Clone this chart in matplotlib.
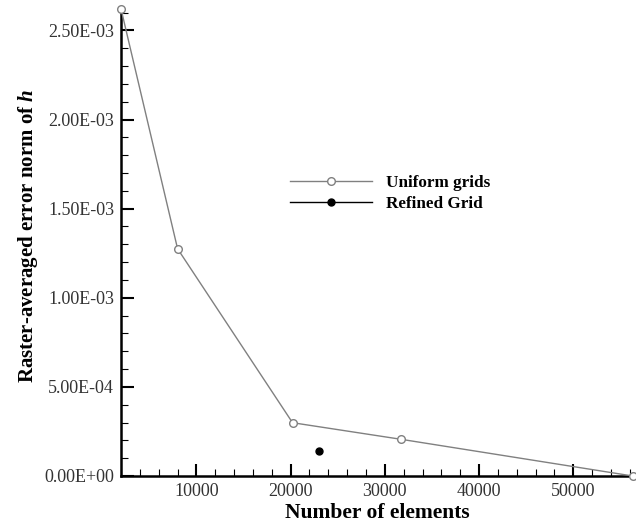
import numpy as np
import matplotlib
matplotlib.use("Agg")
import matplotlib.pyplot as plt
from matplotlib.ticker import MultipleLocator, FormatStrFormatter

plt.rcParams["font.family"] = ["Liberation Serif", "DejaVu Serif"]
plt.rcParams["mathtext.fontset"] = "custom"
plt.rcParams["mathtext.it"] = "Liberation Serif:italic:bold"
plt.rcParams["mathtext.rm"] = "Liberation Serif:bold"

# 数据
uniform_elements = [2000, 8000, 20200, 31700, 56300]
uniform_error = [2.62e-3, 1.275e-3, 2.99e-4, 2.06e-4, 0.0]
refined_elements = [23000]
refined_error = [1.42e-4]

fig = plt.figure(figsize=(6.36, 5.29), dpi=100)
ax = fig.add_axes([0.1903, 0.1002, 0.8045, 0.8828])

ax.plot(uniform_elements, uniform_error, color="#808080", linewidth=1.0,
        marker="o", markersize=5.5, markerfacecolor="white",
        markeredgecolor="#808080", markeredgewidth=1.0,
        label="Uniform grids", clip_on=False, zorder=3)
ax.plot(refined_elements, refined_error, color="black", linewidth=1.0,
        linestyle="none", marker="o", markersize=5,
        label="Refined Grid", clip_on=False, zorder=3)

ax.set_xlim(2000, 56300)
ax.set_ylim(0, 2.62e-3)

for side in ["top", "right"]:
    ax.spines[side].set_visible(False)
for side in ["left", "bottom"]:
    ax.spines[side].set_linewidth(1.8)

ax.xaxis.set_major_locator(MultipleLocator(10000))
ax.xaxis.set_minor_locator(MultipleLocator(2000))
ax.yaxis.set_major_locator(MultipleLocator(5e-4))
ax.yaxis.set_minor_locator(MultipleLocator(1e-4))
ax.yaxis.set_major_formatter(FormatStrFormatter("%.2E"))

ax.tick_params(which="major", direction="in", length=9, width=1.5,
               labelsize=13, labelcolor="#333333", pad=5)
ax.tick_params(which="minor", direction="in", length=5, width=0.8)

ax.set_xlabel("Number of elements", fontsize=15.5, fontweight="bold", labelpad=2)
ax.set_ylabel("Raster-averaged error norm of $h$", fontsize=15,
              fontweight="bold", labelpad=4)
ax.yaxis.set_label_coords(-0.158, 0.515)

leg = ax.legend(loc="upper left", bbox_to_anchor=(0.456, 0.669),
                bbox_transform=fig.transFigure, frameon=False,
                prop={"size": 12.3, "weight": "bold"}, handlelength=4.8,
                handletextpad=0.8, borderpad=0, borderaxespad=0,
                labelspacing=0.3, numpoints=1)
leg.legend_handles[1].set_linestyle("-")
leg.legend_handles[1].set_color("black")

fig.savefig("out.png", dpi=100)
